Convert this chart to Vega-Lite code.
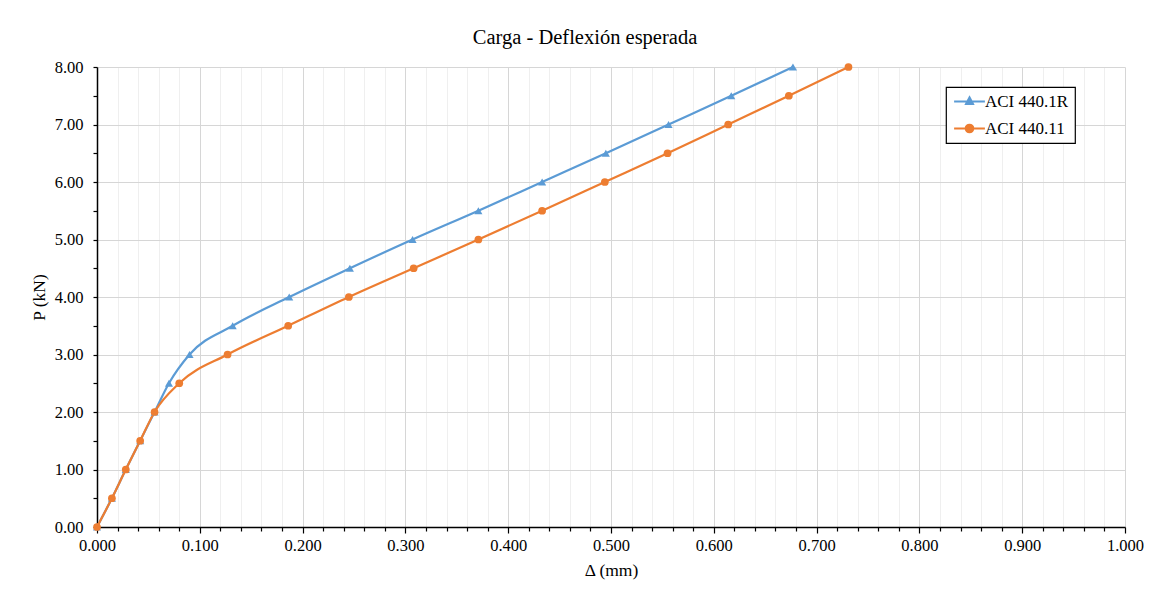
{
  "$schema": "https://vega.github.io/schema/vega-lite/v6.json",
  "width": 1028,
  "height": 460,
  "autosize": {"type": "none"},
  "padding": {"left": 97, "top": 67, "right": 29, "bottom": 65},
  "background": "white",
  "config": {
    "font": "Liberation Serif",
    "view": {"stroke": null}
  },
  "title": {
    "text": "Carga - Deflexión esperada",
    "font": "Liberation Serif",
    "fontSize": 20.5,
    "fontWeight": "normal",
    "color": "#000000",
    "offset": 11,
    "dx": -26
  },
  "data": {
    "values": [
      {"serie": "ACI 440.1R", "d": 0.000, "p": 0.0},
      {"serie": "ACI 440.1R", "d": 0.0145, "p": 0.5},
      {"serie": "ACI 440.1R", "d": 0.028, "p": 1.0},
      {"serie": "ACI 440.1R", "d": 0.042, "p": 1.5},
      {"serie": "ACI 440.1R", "d": 0.056, "p": 2.0},
      {"serie": "ACI 440.1R", "d": 0.070, "p": 2.5},
      {"serie": "ACI 440.1R", "d": 0.090, "p": 3.0},
      {"serie": "ACI 440.1R", "d": 0.132, "p": 3.5},
      {"serie": "ACI 440.1R", "d": 0.187, "p": 4.0},
      {"serie": "ACI 440.1R", "d": 0.246, "p": 4.5},
      {"serie": "ACI 440.1R", "d": 0.307, "p": 5.0},
      {"serie": "ACI 440.1R", "d": 0.371, "p": 5.5},
      {"serie": "ACI 440.1R", "d": 0.433, "p": 6.0},
      {"serie": "ACI 440.1R", "d": 0.495, "p": 6.5},
      {"serie": "ACI 440.1R", "d": 0.556, "p": 7.0},
      {"serie": "ACI 440.1R", "d": 0.617, "p": 7.5},
      {"serie": "ACI 440.1R", "d": 0.677, "p": 8.0},
      {"serie": "ACI 440.11", "d": 0.000, "p": 0.0},
      {"serie": "ACI 440.11", "d": 0.0145, "p": 0.5},
      {"serie": "ACI 440.11", "d": 0.028, "p": 1.0},
      {"serie": "ACI 440.11", "d": 0.042, "p": 1.5},
      {"serie": "ACI 440.11", "d": 0.056, "p": 2.0},
      {"serie": "ACI 440.11", "d": 0.080, "p": 2.5},
      {"serie": "ACI 440.11", "d": 0.127, "p": 3.0},
      {"serie": "ACI 440.11", "d": 0.186, "p": 3.5},
      {"serie": "ACI 440.11", "d": 0.245, "p": 4.0},
      {"serie": "ACI 440.11", "d": 0.308, "p": 4.5},
      {"serie": "ACI 440.11", "d": 0.371, "p": 5.0},
      {"serie": "ACI 440.11", "d": 0.433, "p": 5.5},
      {"serie": "ACI 440.11", "d": 0.494, "p": 6.0},
      {"serie": "ACI 440.11", "d": 0.555, "p": 6.5},
      {"serie": "ACI 440.11", "d": 0.614, "p": 7.0},
      {"serie": "ACI 440.11", "d": 0.673, "p": 7.5},
      {"serie": "ACI 440.11", "d": 0.731, "p": 8.0}
    ]
  },
  "encoding": {
    "x": {
      "field": "d",
      "type": "quantitative",
      "scale": {"domain": [0, 1], "nice": false, "zero": true},
      "axis": {
        "title": "Δ (mm)",
        "titleFont": "Liberation Serif",
        "titleFontSize": 17.5,
        "titleFontWeight": "normal",
        "titleColor": "#000000",
        "titlePadding": 8,
        "values": [0, 0.02, 0.04, 0.06, 0.08, 0.1, 0.12, 0.14, 0.16, 0.18, 0.2, 0.22, 0.24, 0.26, 0.28, 0.3, 0.32, 0.34, 0.36, 0.38, 0.4, 0.42, 0.44, 0.46, 0.48, 0.5, 0.52, 0.54, 0.56, 0.58, 0.6, 0.62, 0.64, 0.66, 0.68, 0.7, 0.72, 0.74, 0.76, 0.78, 0.8, 0.82, 0.84, 0.86, 0.88, 0.9, 0.92, 0.94, 0.96, 0.98, 1.0],
        "labelExpr": "abs(datum.value*10 - round(datum.value*10)) < 0.001 ? format(datum.value, '.3f') : ''",
        "labelFont": "Liberation Serif",
        "labelFontSize": 16.5,
        "labelColor": "#000000",
        "labelPadding": 4,
        "labelOverlap": false,
        "labelFlush": false,
        "domainColor": "#000000",
        "domainWidth": 1.5,
        "tickColor": "#000000",
        "tickWidth": 1.2,
        "tickSize": {"condition": {"test": "abs(datum.value*10 - round(datum.value*10)) < 0.001", "value": 6}, "value": 4},
        "grid": true,
        "gridColor": {"condition": {"test": "abs(datum.value*10 - round(datum.value*10)) < 0.001", "value": "#d6d6d6"}, "value": "#efefef"},
        "gridWidth": 1
      }
    },
    "y": {
      "field": "p",
      "type": "quantitative",
      "scale": {"domain": [0, 8], "nice": false},
      "axis": {
        "title": "P (kN)",
        "titleFont": "Liberation Serif",
        "titleFontSize": 17.5,
        "titleFontWeight": "normal",
        "titleColor": "#000000",
        "titlePadding": 6,
        "values": [0, 0.5, 1, 1.5, 2, 2.5, 3, 3.5, 4, 4.5, 5, 5.5, 6, 6.5, 7, 7.5, 8],
        "labelExpr": "abs(datum.value - round(datum.value)) < 0.001 ? format(datum.value, '.2f') : ''",
        "labelFont": "Liberation Serif",
        "labelFontSize": 16.5,
        "labelColor": "#000000",
        "labelPadding": 10,
        "labelOverlap": false,
        "labelFlush": false,
        "domainColor": "#000000",
        "domainWidth": 1.5,
        "tickColor": "#000000",
        "tickWidth": 1.2,
        "tickSize": 4,
        "grid": true,
        "gridColor": "#d6d6d6",
        "gridOpacity": {"condition": {"test": "abs(datum.value - round(datum.value)) < 0.001", "value": 1}, "value": 0},
        "gridWidth": 1
      }
    }
  },
  "layer": [
    {
      "mark": {"type": "line", "interpolate": "monotone", "strokeWidth": 2.2},
      "encoding": {
        "color": {
          "field": "serie",
          "type": "nominal",
          "scale": {"domain": ["ACI 440.1R", "ACI 440.11"], "range": ["#5B9BD5", "#ED7D31"]},
          "legend": {
            "title": null,
            "orient": "none",
            "legendX": 849,
            "legendY": 20,
            "direction": "vertical",
            "strokeColor": "#000000",
            "fillColor": "#ffffff",
            "padding": 6,
            "rowPadding": 9,
            "symbolSize": 196,
            "symbolStrokeWidth": 2,
            "symbolOffset": 9,
            "labelOffset": 7,
            "labelFont": "Liberation Serif",
            "labelFontSize": 17,
            "labelColor": "#000000",
            "encode": {
              "legend": {
                "update": {
                  "strokeWidth": {"value": 1.2}
                }
              },
              "symbols": {
                "update": {
                  "shape": {"signal": "datum.value === 'ACI 440.1R' ? 'M-2.2,0H2.2M0,-0.6L0.5,0.35H-0.5Z' : 'M-2.2,0H2.2M0.55,0A0.55,0.55 0 1 1 -0.55,0A0.55,0.55 0 1 1 0.55,0Z'"},
                  "fill": {"signal": "scale('color', datum.value)"},
                  "stroke": {"signal": "scale('color', datum.value)"},
                  "fillOpacity": {"value": 1},
                  "strokeWidth": {"value": 2}
                }
              }
            }
          }
        }
      }
    },
    {
      "transform": [{"filter": "datum.serie === 'ACI 440.1R'"}],
      "mark": {"type": "point", "filled": true, "opacity": 1, "size": 65, "shape": "triangle-up"},
      "encoding": {
        "color": {"field": "serie", "type": "nominal", "legend": null}
      }
    },
    {
      "transform": [{"filter": "datum.serie === 'ACI 440.11'"}],
      "mark": {"type": "point", "filled": true, "opacity": 1, "size": 60, "shape": "circle"},
      "encoding": {
        "color": {"field": "serie", "type": "nominal", "legend": null}
      }
    }
  ]
}
